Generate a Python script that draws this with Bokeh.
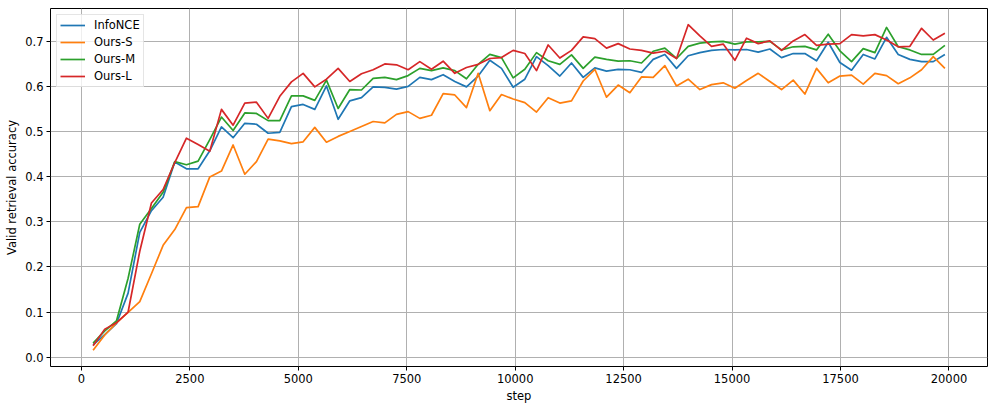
from bokeh.plotting import figure
from bokeh.models import FixedTicker, NumeralTickFormatter, Legend, LegendItem, Range1d
from bokeh.embed import file_html
from bokeh.resources import INLINE

steps = [269, 538, 807, 1076, 1345, 1614, 1883, 2152, 2421, 2690, 2959, 3228, 3497, 3766,
         4035, 4304, 4573, 4842, 5111, 5380, 5649, 5918, 6187, 6456, 6725, 6994, 7263, 7532,
         7801, 8070, 8339, 8608, 8877, 9146, 9415, 9684, 9953, 10222, 10491, 10760, 11029,
         11298, 11567, 11836, 12105, 12374, 12643, 12912, 13181, 13450, 13719, 13988, 14257,
         14526, 14795, 15064, 15333, 15602, 15871, 16140, 16409, 16678, 16947, 17216, 17485,
         17754, 18023, 18292, 18561, 18830, 19099, 19368, 19637, 19906]

infonce = [0.027, 0.050, 0.074, 0.142, 0.277, 0.325, 0.355, 0.433, 0.418, 0.418,
           0.458, 0.511, 0.487, 0.519, 0.517, 0.497, 0.499, 0.556, 0.561, 0.550,
           0.602, 0.528, 0.569, 0.576, 0.600, 0.599, 0.595, 0.601, 0.621, 0.616,
           0.627, 0.612, 0.600, 0.624, 0.659, 0.641, 0.599, 0.617, 0.667, 0.647,
           0.624, 0.653, 0.621, 0.642, 0.635, 0.639, 0.638, 0.632, 0.661, 0.672,
           0.641, 0.669, 0.676, 0.681, 0.683, 0.682, 0.683, 0.677, 0.684, 0.665,
           0.674, 0.674, 0.658, 0.699, 0.654, 0.637, 0.672, 0.662, 0.710, 0.672,
           0.661, 0.656, 0.656, 0.672]

ours_s = [0.015, 0.049, 0.076, 0.099, 0.123, 0.185, 0.248, 0.283, 0.332, 0.334,
          0.400, 0.413, 0.471, 0.406, 0.434, 0.484, 0.480, 0.474, 0.478, 0.510,
          0.477, 0.490, 0.501, 0.512, 0.523, 0.520, 0.539, 0.545, 0.530, 0.537,
          0.585, 0.582, 0.554, 0.630, 0.547, 0.583, 0.573, 0.565, 0.544, 0.576,
          0.564, 0.569, 0.613, 0.639, 0.577, 0.604, 0.587, 0.622, 0.621, 0.647,
          0.602, 0.617, 0.594, 0.605, 0.609, 0.597, 0.614, 0.630, 0.612, 0.594,
          0.615, 0.584, 0.641, 0.609, 0.624, 0.626, 0.606, 0.630, 0.625, 0.607,
          0.620, 0.638, 0.667, 0.641]

ours_m = [0.031, 0.058, 0.080, 0.175, 0.295, 0.330, 0.366, 0.434, 0.427, 0.435,
          0.483, 0.533, 0.503, 0.542, 0.541, 0.525, 0.525, 0.580, 0.580, 0.570,
          0.615, 0.552, 0.594, 0.593, 0.619, 0.621, 0.616, 0.625, 0.641, 0.636,
          0.642, 0.636, 0.618, 0.650, 0.672, 0.665, 0.620, 0.639, 0.676, 0.658,
          0.650, 0.671, 0.641, 0.666, 0.661, 0.657, 0.658, 0.653, 0.679, 0.686,
          0.663, 0.690, 0.697, 0.700, 0.701, 0.695, 0.700, 0.700, 0.701, 0.682,
          0.689, 0.690, 0.682, 0.717, 0.680, 0.656, 0.685, 0.676, 0.732, 0.689,
          0.682, 0.672, 0.672, 0.692]

ours_l = [0.025, 0.062, 0.076, 0.100, 0.235, 0.342, 0.372, 0.432, 0.486, 0.472,
          0.457, 0.550, 0.515, 0.564, 0.566, 0.530, 0.579, 0.611, 0.630, 0.600,
          0.617, 0.641, 0.612, 0.629, 0.638, 0.651, 0.649, 0.638, 0.656, 0.639,
          0.657, 0.630, 0.643, 0.650, 0.663, 0.665, 0.681, 0.674, 0.636, 0.693,
          0.664, 0.681, 0.711, 0.707, 0.686, 0.696, 0.684, 0.681, 0.675, 0.679,
          0.663, 0.738, 0.713, 0.690, 0.695, 0.659, 0.708, 0.696, 0.702, 0.681,
          0.702, 0.716, 0.692, 0.695, 0.696, 0.716, 0.713, 0.716, 0.704, 0.689,
          0.690, 0.730, 0.704, 0.719]

series_names = ["InfoNCE", "Ours-S", "Ours-M", "Ours-L"]
series_values = [infonce, ours_s, ours_m, ours_l]
colors = ["#1f77b4", "#ff7f0e", "#2ca02c", "#d62728"]

x_ticks = [0, 2500, 5000, 7500, 10000, 12500, 15000, 17500, 20000]
y_ticks = [0.0, 0.1, 0.2, 0.3, 0.4, 0.5, 0.6, 0.7]

FONT = "DejaVu Sans"
FS = "11.5px"

p = figure(width=997, height=410, output_backend="svg", toolbar_location=None,
           x_range=Range1d(-713, 20888), y_range=Range1d(-0.021, 0.774),
           min_border_left=50, min_border_right=10, min_border_top=8, min_border_bottom=44)

p.outline_line_color = "black"
p.outline_line_width = 1
p.background_fill_color = "white"
p.border_fill_color = "white"

for ax in (p.xaxis[0], p.yaxis[0]):
    ax.axis_line_color = None
    ax.major_tick_in = 0
    ax.major_tick_out = 4
    ax.major_tick_line_color = "black"
    ax.minor_tick_line_color = None
    ax.major_label_text_font = FONT
    ax.major_label_text_font_size = FS
    ax.major_label_text_color = "black"
    ax.major_label_standoff = 3
    ax.axis_label_text_font = FONT
    ax.axis_label_text_font_size = FS
    ax.axis_label_text_font_style = "normal"
    ax.axis_label_text_color = "black"
    ax.axis_label_standoff = 3

p.xaxis.ticker = FixedTicker(ticks=x_ticks)
p.yaxis.ticker = FixedTicker(ticks=y_ticks)
p.xaxis.formatter = NumeralTickFormatter(format="0")
p.yaxis.formatter = NumeralTickFormatter(format="0.0")
p.xaxis.axis_label = "step"
p.yaxis.axis_label = "Valid retrieval accuracy"

p.xgrid.ticker = FixedTicker(ticks=x_ticks)
p.ygrid.ticker = FixedTicker(ticks=y_ticks)
p.grid.grid_line_color = "#b0b0b0"
p.grid.grid_line_width = 1

items = []
for name, vals, c in zip(series_names, series_values, colors):
    r = p.line(steps, vals, line_color=c, line_width=1.7, line_join="round")
    items.append(LegendItem(label=name, renderers=[r]))

legend = Legend(items=items, location="top_left")
legend.margin = 6
legend.padding = 3
legend.spacing = 3
legend.glyph_width = 25
legend.glyph_height = 14
legend.label_height = 14
legend.label_standoff = 9
legend.label_text_font = FONT
legend.label_text_font_size = FS
legend.label_text_color = "black"
legend.border_line_color = "#cccccc"
legend.border_line_width = 1
legend.background_fill_color = "white"
legend.background_fill_alpha = 0.8
p.add_layout(legend)

open("out.html", "w").write(file_html(p, INLINE))
